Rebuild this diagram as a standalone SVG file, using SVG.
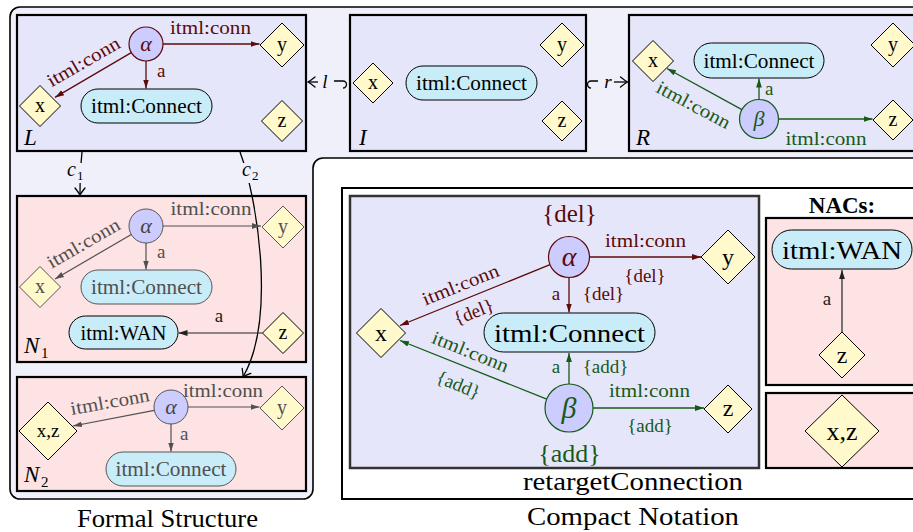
<svg xmlns="http://www.w3.org/2000/svg" width="913" height="532" viewBox="0 0 913 532" font-family="'Liberation Serif','Times New Roman',serif">
<style>
text{font-family:"Liberation Serif","Times New Roman",serif;}
.m{text-anchor:middle}
.it{font-style:italic}
.b{font-weight:bold}
.frame{fill:#f0f0fb;stroke:#000;stroke-width:1.6}
.pl{fill:#e6e6fa;stroke:#000;stroke-width:2.2}
.pk{fill:#fde3e3;stroke:#000;stroke-width:2.2}
.dia{fill:#fff9cc;stroke:#000;stroke-width:1}
.dg{fill:#fff9cc;stroke:#555;stroke-width:1}
.pill{fill:#c8ecf8;stroke:#000;stroke-width:1}
.pg{fill:#c8ecf8;stroke:#555;stroke-width:1}
.cr{fill:#ccccff;stroke:#5c0a0a;stroke-width:1.2}
.cg{fill:#ccccff;stroke:#175a17;stroke-width:1.2}
.cy{fill:#ccccff;stroke:#555;stroke-width:1}
.red{fill:#5c0a0a}.grn{fill:#175a17}.gry{fill:#505050}
.er{stroke:#5c0a0a;stroke-width:1.3;fill:none;marker-end:url(#mr)}
.eg{stroke:#175a17;stroke-width:1.3;fill:none;marker-end:url(#mg)}
.ey{stroke:#505050;stroke-width:1.2;fill:none;marker-end:url(#my)}
.ek{stroke:#222;stroke-width:1.2;fill:none;marker-end:url(#mk)}
.mo{stroke:#000;stroke-width:1.3;fill:none}
</style>
<defs>
<marker id="mr" viewBox="0 0 10 10" refX="10" refY="5" markerUnits="userSpaceOnUse" markerWidth="9" markerHeight="9" orient="auto"><path d="M0,1.8 L10,5 L0,8.2 Z" fill="#5c0a0a"/></marker>
<marker id="mg" viewBox="0 0 10 10" refX="10" refY="5" markerUnits="userSpaceOnUse" markerWidth="9" markerHeight="9" orient="auto"><path d="M0,1.8 L10,5 L0,8.2 Z" fill="#175a17"/></marker>
<marker id="my" viewBox="0 0 10 10" refX="10" refY="5" markerUnits="userSpaceOnUse" markerWidth="9" markerHeight="9" orient="auto"><path d="M0,1.8 L10,5 L0,8.2 Z" fill="#505050"/></marker>
<marker id="mk" viewBox="0 0 10 10" refX="10" refY="5" markerUnits="userSpaceOnUse" markerWidth="9" markerHeight="9" orient="auto"><path d="M0,1.8 L10,5 L0,8.2 Z" fill="#222"/></marker>
<marker id="to" viewBox="-10 -6 12 12" refX="0" refY="0" markerUnits="userSpaceOnUse" markerWidth="12" markerHeight="12" orient="auto" overflow="visible"><path d="M-7,-5 Q-2,-1 0,0 Q-2,1 -7,5" fill="none" stroke="#000" stroke-width="1.3" stroke-linecap="round"/></marker>
</defs>

<rect x="0" y="0" width="913" height="532" fill="#fff"/>

<g id="formal-frame">
<path class="frame" d="M20,7 H935 V158 H323 A10,10 0 0 0 313,168 V489 A10,10 0 0 1 303,499 H20 A10,10 0 0 1 10,489 V17 A10,10 0 0 1 20,7 Z"/>
<text class="m" x="167.5" y="527" font-size="26" textLength="181" lengthAdjust="spacingAndGlyphs">Formal Structure</text>
</g>

<g id="panel-L">
<rect class="pl" x="17" y="15" width="289" height="136"/>
<text class="it" x="24" y="145" font-size="23">L</text>
</g>
<g id="L-y"><polygon class="dia" points="282,23 304,45 282,67 260,45"/><text class="m" x="282" y="51" font-size="20">y</text></g>
<g id="L-x"><polygon class="dia" points="40,85.5 60.5,106 40,126.5 19.5,106"/><text class="m" x="40" y="112" font-size="20">x</text></g>
<g id="L-z"><polygon class="dia" points="282,100.5 302.5,121 282,141.5 261.5,121"/><text class="m" x="282" y="127" font-size="20">z</text></g>
<g id="L-connect"><rect class="pill" x="81" y="89" width="131" height="34" rx="17"/><text class="m" x="146.5" y="113" font-size="20" textLength="111" lengthAdjust="spacingAndGlyphs">itml:Connect</text></g>
<g id="L-alpha"><circle class="cr" cx="146" cy="44" r="17"/><text class="m it red" x="146" y="51" font-size="22">α</text></g>

<g id="panel-I">
<rect class="pl" x="350" y="15" width="236" height="136"/>
<text class="it" x="359" y="145" font-size="23">I</text>
</g>
<g id="I-x"><polygon class="dia" points="373,63 393,83 373,103 353,83"/><text class="m" x="373" y="89" font-size="20">x</text></g>
<g id="I-connect"><rect class="pill" x="406" y="66" width="131" height="34" rx="17"/><text class="m" x="471.5" y="90" font-size="20" textLength="111" lengthAdjust="spacingAndGlyphs">itml:Connect</text></g>
<g id="I-y"><polygon class="dia" points="562,23 584,45 562,67 540,45"/><text class="m" x="562" y="51" font-size="20">y</text></g>
<g id="I-z"><polygon class="dia" points="562,101 582,121 562,141 542,121"/><text class="m" x="562" y="127" font-size="20">z</text></g>

<g id="panel-R">
<rect class="pl" x="629" y="15" width="300" height="136"/>
<text class="it" x="636" y="145" font-size="23">R</text>
</g>
<g id="R-x"><polygon class="dia" points="653,40.5 673.5,61 653,81.5 632.5,61"/><text class="m" x="653" y="67" font-size="20">x</text></g>
<g id="R-connect"><rect class="pill" x="694" y="43" width="130" height="35" rx="17.5"/><text class="m" x="759" y="67.5" font-size="20" textLength="111" lengthAdjust="spacingAndGlyphs">itml:Connect</text></g>
<g id="R-y"><polygon class="dia" points="893,23 915,45 893,67 871,45"/><text class="m" x="893" y="51" font-size="20">y</text></g>
<g id="R-z"><polygon class="dia" points="893,100 913,120 893,140 873,120"/><text class="m" x="893" y="126" font-size="20">z</text></g>
<g id="R-beta"><circle class="cg" cx="759" cy="119" r="19.5"/><text class="m it grn" x="759" y="126" font-size="22">β</text></g>

<g id="panel-N1">
<rect class="pk" x="17" y="196" width="289" height="166"/>
<text class="it" x="24" y="353" font-size="23">N</text><text x="41" y="358" font-size="15">1</text>
</g>
<g id="N1-alpha"><circle class="cy" cx="146" cy="226" r="17"/><text class="m it" fill="#444" x="146" y="233" font-size="22">α</text></g>
<g id="N1-y"><polygon class="dg" points="283,206 304,227 283,248 262,227"/><text class="m gry" x="283" y="233" font-size="20">y</text></g>
<g id="N1-x"><polygon class="dg" points="40,266.5 60.5,287 40,307.5 19.5,287"/><text class="m gry" x="40" y="293" font-size="20">x</text></g>
<g id="N1-connect"><rect class="pg" x="81" y="270" width="131" height="34" rx="17"/><text class="m gry" x="146.5" y="294" font-size="20" textLength="111" lengthAdjust="spacingAndGlyphs">itml:Connect</text></g>
<g id="N1-wan"><rect class="pill" x="69" y="316" width="109" height="33" rx="16.5"/><text class="m" x="123.5" y="339.5" font-size="20" textLength="86" lengthAdjust="spacingAndGlyphs">itml:WAN</text></g>
<g id="N1-z"><polygon class="dia" points="283,312.5 303.5,333 283,353.5 262.5,333"/><text class="m" x="283" y="339" font-size="20">z</text></g>

<g id="panel-N2">
<rect class="pk" x="17" y="377" width="289" height="114"/>
<text class="it" x="24" y="482" font-size="23">N</text><text x="41" y="487" font-size="15">2</text>
</g>
<g id="N2-alpha"><circle class="cy" cx="171" cy="407" r="17"/><text class="m it" fill="#444" x="171" y="414" font-size="22">α</text></g>
<g id="N2-y"><polygon class="dg" points="282,386 304,408 282,430 260,408"/><text class="m gry" x="282" y="414" font-size="20">y</text></g>
<g id="N2-xz"><polygon class="dia" points="48,402 77,431 48,460 19,431"/><text class="m" x="48" y="437" font-size="19">x,z</text></g>
<g id="N2-connect"><rect class="pg" x="106" y="452" width="130" height="34" rx="17"/><text class="m gry" x="171" y="476" font-size="20" textLength="111" lengthAdjust="spacingAndGlyphs">itml:Connect</text></g>

<g id="compact-box">
<rect x="342" y="188" width="590" height="311" fill="#fff" stroke="#000" stroke-width="2"/>
<rect x="350" y="196" width="409" height="272" fill="#e6e6fa" stroke="#333" stroke-width="2.5"/>
<text class="m" x="633" y="490" font-size="26" textLength="220" lengthAdjust="spacingAndGlyphs">retargetConnection</text>
<text class="m" x="633" y="525" font-size="26" textLength="212" lengthAdjust="spacingAndGlyphs">Compact Notation</text>
<text class="m red" x="569.5" y="222" font-size="25">{del}</text>
<text class="m grn" x="569.5" y="462" font-size="26">{add}</text>
</g>
<g id="C-alpha"><circle class="cr" cx="569" cy="257" r="20.5"/><text class="m it red" x="569" y="266" font-size="28">α</text></g>
<g id="C-y"><polygon class="dia" points="728,230 755,257 728,284 701,257"/><text class="m" x="728" y="265" font-size="24">y</text></g>
<g id="C-connect"><rect class="pill" x="484" y="313" width="171" height="39" rx="19.5"/><text class="m" x="569.5" y="342" font-size="26" textLength="151" lengthAdjust="spacingAndGlyphs">itml:Connect</text></g>
<g id="C-x"><polygon class="dia" points="381,308.5 405.5,333 381,357.5 356.5,333"/><text class="m" x="381" y="341" font-size="24">x</text></g>
<g id="C-beta"><circle class="cg" cx="569" cy="408" r="24"/><text class="m it grn" x="569" y="418" font-size="30">β</text></g>
<g id="C-z"><polygon class="dia" points="728,385 752,409 728,433 704,409"/><text class="m" x="728" y="416" font-size="24">z</text></g>

<g id="nacs">
<text class="m b" x="842" y="213" font-size="23">NACs:</text>
<rect class="pk" x="766" y="218" width="160" height="167"/>
<rect class="pk" x="766" y="393" width="160" height="75"/>
</g>
<g id="NAC-wan"><rect class="pill" x="772" y="230" width="140" height="39" rx="19.5"/><text class="m" x="842" y="258.5" font-size="26" textLength="120" lengthAdjust="spacingAndGlyphs">itml:WAN</text></g>
<g id="NAC-z"><polygon class="dia" points="842,332 865,355 842,378 819,355"/><text class="m" x="842" y="363" font-size="24">z</text></g>
<g id="NAC-xz"><polygon class="dia" points="842,395 879,431 842,467 805,431"/><text class="m" x="842" y="440" font-size="26">x,z</text></g>

<g id="connectors">
<line class="er" x1="163" y1="44" x2="259.5" y2="44"/>
<text class="m red" x="210.5" y="34" font-size="19" textLength="81" lengthAdjust="spacingAndGlyphs">itml:conn</text>
<line class="er" x1="131.3" y1="52.6" x2="55" y2="97.4"/>
<text class="m red" transform="translate(86.5,67.3) rotate(-30)" font-size="19" textLength="81" lengthAdjust="spacingAndGlyphs">itml:conn</text>
<line class="er" x1="146" y1="61" x2="146" y2="88.5"/>
<text class="red" x="157" y="77" font-size="19">a</text>
<line class="eg" x1="759" y1="99.5" x2="759" y2="78.5"/>
<text class="grn" x="765" y="95" font-size="19">a</text>
<line class="eg" x1="741.9" y1="109.6" x2="667" y2="68.5"/>
<text class="m grn" transform="translate(690.6,110.4) rotate(28)" font-size="19" textLength="81" lengthAdjust="spacingAndGlyphs">itml:conn</text>
<line class="eg" x1="778.5" y1="119" x2="872.5" y2="119"/>
<text class="m grn" x="826" y="145" font-size="19" textLength="81" lengthAdjust="spacingAndGlyphs">itml:conn</text>
<line class="mo" x1="318" y1="82" x2="308" y2="82" marker-end="url(#to)"/>
<text class="m it" x="325" y="88" font-size="19">l</text>
<path class="mo" d="M334,81 H343 A3.5,3.5 0 0 1 343,88"/>
<path class="mo" d="M598,81 H591 A3.5,3.5 0 0 0 591,88"/>
<text class="m it" x="608" y="88" font-size="19">r</text>
<line class="mo" x1="614" y1="82" x2="627.5" y2="82" marker-end="url(#to)"/>
<path class="mo" d="M82,152 Q80,172 80,195" marker-end="url(#to)"/>
<path class="mo" d="M240,152 C258,200 276,320 243,377" marker-end="url(#to)"/>
<rect x="65" y="163" width="23" height="20" fill="#f0f0fb"/>
<rect x="240" y="163" width="23" height="20" fill="#f0f0fb"/>
<text class="it" x="67" y="176" font-size="20">c</text><text x="77" y="180" font-size="13">1</text>
<text class="it" x="242" y="176" font-size="20">c</text><text x="252" y="180" font-size="13">2</text>
<line class="ey" x1="163" y1="226" x2="261" y2="226"/>
<text class="m gry" x="211" y="215" font-size="19" textLength="81" lengthAdjust="spacingAndGlyphs">itml:conn</text>
<line class="ey" x1="131.3" y1="234.5" x2="55" y2="279"/>
<text class="m gry" transform="translate(86.5,248.8) rotate(-30)" font-size="19" textLength="81" lengthAdjust="spacingAndGlyphs">itml:conn</text>
<line class="ey" x1="146" y1="243" x2="146" y2="269.5"/>
<text class="gry" x="157" y="258" font-size="19">a</text>
<line class="ek" x1="262.5" y1="333" x2="178.5" y2="333"/>
<text class="m" x="219" y="322" font-size="19" fill="#222">a</text>
<line class="ey" x1="188" y1="407" x2="259.5" y2="407"/>
<text class="m gry" x="223" y="397" font-size="19" textLength="80" lengthAdjust="spacingAndGlyphs">itml:conn</text>
<line class="ey" x1="154.3" y1="410.3" x2="73" y2="426"/>
<text class="m gry" transform="translate(111,408) rotate(-10)" font-size="19" textLength="80" lengthAdjust="spacingAndGlyphs">itml:conn</text>
<line class="ey" x1="171" y1="424" x2="171" y2="451.5"/>
<text class="gry" x="180" y="440" font-size="19">a</text>
<line class="er" x1="589.5" y1="257" x2="701" y2="257"/>
<text class="m red" x="645.5" y="247" font-size="19" textLength="81" lengthAdjust="spacingAndGlyphs">itml:conn</text>
<text class="m red" x="645" y="282" font-size="19">{del}</text>
<line class="er" x1="569" y1="277.5" x2="569" y2="312.5"/>
<text class="m red" x="556" y="300" font-size="19">a</text>
<text class="m red" x="603.5" y="300" font-size="19">{del}</text>
<line class="er" x1="550" y1="264.7" x2="400" y2="325.5"/>
<text class="m red" transform="translate(462.9,290.6) rotate(-22)" font-size="19" textLength="81" lengthAdjust="spacingAndGlyphs">itml:conn</text>
<text class="m red" transform="translate(475.9,317.6) rotate(-22)" font-size="19">{del}</text>
<line class="eg" x1="569" y1="384" x2="569" y2="353"/>
<text class="m grn" x="556" y="373" font-size="19">a</text>
<text class="m grn" x="605.5" y="373" font-size="19">{add}</text>
<line class="eg" x1="593" y1="408" x2="704" y2="408"/>
<text class="m grn" x="649.5" y="397" font-size="19" textLength="81" lengthAdjust="spacingAndGlyphs">itml:conn</text>
<text class="m grn" x="650" y="432" font-size="19">{add}</text>
<line class="eg" x1="546.7" y1="399.1" x2="400" y2="340.5"/>
<text class="m grn" transform="translate(468.1,357.6) rotate(22)" font-size="19" textLength="81" lengthAdjust="spacingAndGlyphs">itml:conn</text>
<text class="m grn" transform="translate(456.1,390.6) rotate(22)" font-size="19">{add}</text>
<line class="ek" x1="842" y1="332" x2="842" y2="270"/>
<text class="m" x="827" y="305" font-size="19" fill="#222">a</text>
</g>
</svg>
